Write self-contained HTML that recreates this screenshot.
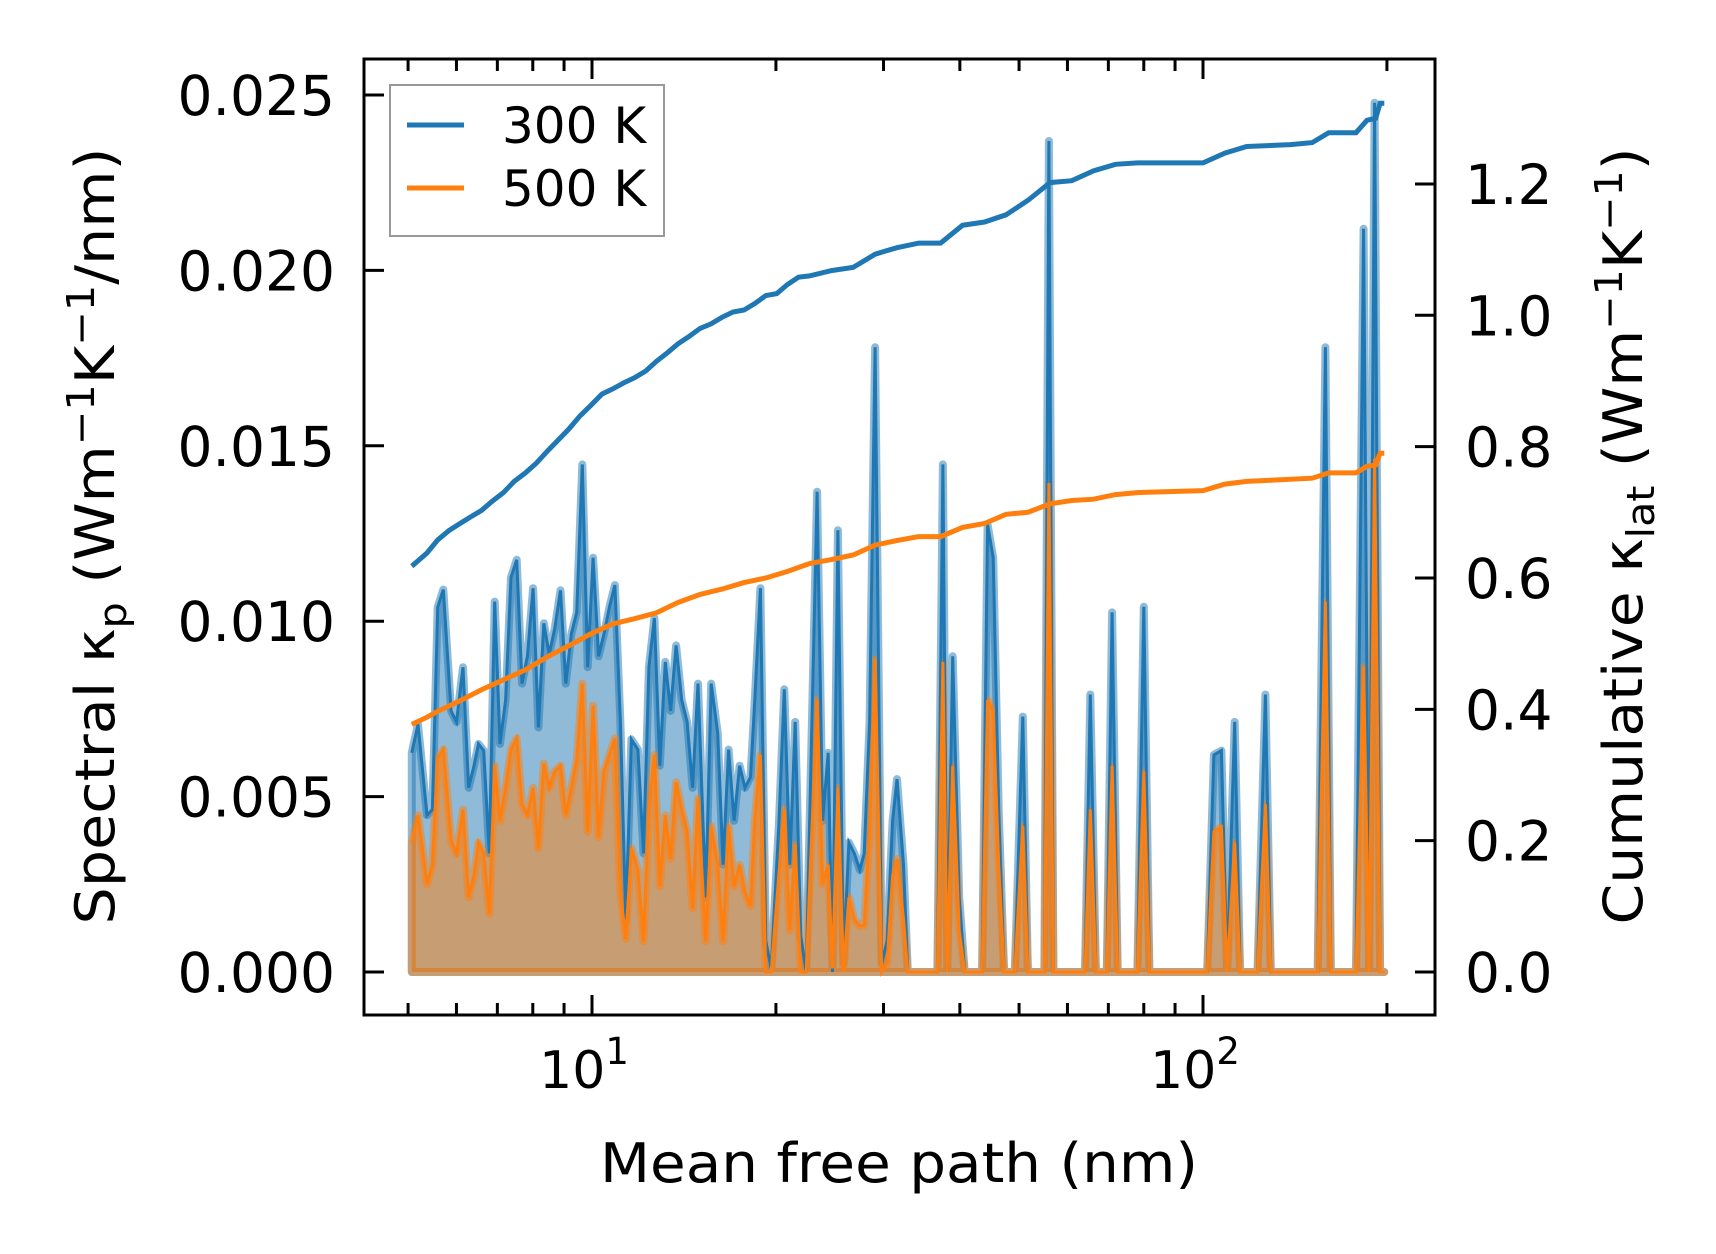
<!DOCTYPE html>
<html><head><meta charset="utf-8"><style>
html,body{margin:0;padding:0;background:#fff}
svg{display:block;font-family:"DejaVu Sans","Liberation Sans",sans-serif}
</style></head><body>
<svg id="chart" width="1716" height="1254" viewBox="0 0 1716 1254" xmlns="http://www.w3.org/2000/svg">
<rect width="1716" height="1254" fill="#fff"/>
<g id="plot"></g>
<g id="axes"></g>
<text x="899" y="1182" font-size="54" text-anchor="middle" textLength="598" lengthAdjust="spacingAndGlyphs">Mean free path (nm)</text>
<text transform="translate(114,536) rotate(-90)" font-size="54" text-anchor="middle" textLength="777" lengthAdjust="spacingAndGlyphs">Spectral κ<tspan font-size="38" dy="12">p</tspan><tspan dy="-12"> (Wm</tspan><tspan font-size="38" dy="-20">−1</tspan><tspan dy="20">K</tspan><tspan font-size="38" dy="-20">−1</tspan><tspan dy="20">/nm)</tspan></text>
<text transform="translate(1642,536) rotate(-90)" font-size="54" text-anchor="middle" textLength="777" lengthAdjust="spacingAndGlyphs">Cumulative κ<tspan font-size="38" dy="12">lat</tspan><tspan dy="-12"> (Wm</tspan><tspan font-size="38" dy="-20">−1</tspan><tspan dy="20">K</tspan><tspan font-size="38" dy="-20">−1</tspan><tspan dy="20">)</tspan></text>
<g>
<rect x="390" y="85" width="274" height="151" fill="#fff" stroke="#999" stroke-width="2"/>
<line x1="407" y1="125" x2="464" y2="125" stroke="#1f77b4" stroke-width="5"/>
<text x="502" y="143" font-size="50">300 K</text>
<line x1="407" y1="188" x2="464" y2="188" stroke="#ff7f0e" stroke-width="5"/>
<text x="502" y="206" font-size="50">500 K</text>
</g>
</svg>
<script>
const mfp = [5.07,5.19,5.37,5.48,5.59,5.71,5.88,6.00,6.15,6.28,6.41,6.52,6.65,6.79,6.93,7.07,7.22,7.37,7.53,7.68,7.84,8.01,8.17,8.34,8.51,8.69,8.88,9.06,9.25,9.44,9.64,9.84,10.04,10.25,10.46,10.68,10.9,11.13,11.36,11.6,11.89,12.14,12.39,12.65,12.91,13.18,13.45,13.73,14.02,14.31,14.61,14.91,15.35,15.67,16.06,16.39,16.73,17.08,17.44,17.8,18.17,18.47,18.86,19.25,19.65,20.22,20.64,21.07,21.51,21.96,22.42,22.98,23.36,23.85,24.35,24.75,25.26,25.79,26.33,26.87,27.43,27.89,28.47,29.06,29.79,30.41,31.04,31.56,32.35,32.88,36.75,37.52,38.14,38.93,39.9,40.74,43.5,44.4,45.35,46.3,47.25,49.2,50.7,51.7,55.0,55.95,56.9,64.1,65.4,66.8,69.6,71.0,72.5,78.1,80.0,81.7,101.6,104.2,107.2,109.5,112.7,115,122.8,126.5,129.1,154.1,158.6,161.9,178,183.2,187,190.9,194.9,198];
const spec300 = [6.25,7.06,4.47,4.63,10.4,10.9,7.44,7.13,8.69,5.25,5.88,6.5,6.31,3.38,10.56,6.5,7.75,11.25,11.75,8.22,9.0,10.94,6.97,9.94,9.06,9.78,10.88,8.22,9.63,10.25,14.47,8.69,11.81,9.0,9.63,10.41,11.03,7.13,1.5,6.63,6.34,3.38,8.69,10.09,5.88,8.84,7.44,9.31,7.75,7.13,5.25,8.22,2.13,8.22,6.81,3.06,6.34,4.31,5.88,5.25,5.56,7.75,10.94,0.88,0.1,4.16,8.06,3.06,7.13,1.03,0,8.22,13.69,4.31,6.25,0,12.59,0.25,3.69,3.38,2.91,3.38,7.13,17.81,0.25,0.88,4.31,5.5,3.06,0,0,14.47,0,9.0,2.13,0,0,12.75,11.81,4.63,0,0,7.28,0,0,23.69,0,0,7.91,0,0,10.25,0,0,10.41,0,0,6.19,6.31,0,7.13,0,0,7.91,0,0,17.81,0,0,21.19,0,24.78,0,0];
const spec500 = [3.69,4.47,2.5,3.06,6.09,6.34,3.75,3.38,4.63,2.13,2.75,3.69,3.38,1.66,5.88,4.31,5.25,6.34,6.66,4.78,4.47,5.25,3.53,5.94,5.25,5.72,5.88,4.47,5.25,6.03,8.22,4.0,7.59,3.84,5.72,6.19,6.66,2.28,0.94,3.53,2.91,0.88,4.63,6.19,2.44,4.47,3.22,5.41,4.63,4.0,1.81,4.94,0.88,4.16,3.06,0.88,4.16,2.44,3.06,2.28,1.88,4.31,6.19,0,0,2.75,4.63,1.19,3.63,0,0,4.69,7.75,2.5,3.06,0.1,5.25,0,2.13,1.5,1.31,1.34,4.0,8.91,0,0.25,2.75,3.22,1.5,0,0,8.84,0,5.88,1.19,0,0,7.75,7.44,3.06,0,0,4.16,0,0,13.94,0,0,4.63,0,0,5.88,0,0,5.72,0,0,4.0,4.13,0,3.69,0,0,4.78,0,0,10.56,0,0,8.69,0,14.63,0,0];
const cumMfp300 = [5.07,5.37,5.59,5.83,6.08,6.33,6.60,6.87,7.16,7.46,7.78,8.11,8.45,8.80,9.17,9.56,9.96,10.38,10.81,11.27,11.74,12.24,12.75,13.29,13.85,14.43,15.03,15.67,16.32,17.01,17.73,18.47,19.25,20.06,20.9,21.78,22.7,24.65,26.76,29.06,30.28,31.56,34.27,37.2,40.4,43.9,47.6,51.7,56.2,61.0,66.2,71.9,78.1,100,108.6,117.9,139,150.9,160.6,178,185.5,191.7,194.9,198];
const cum300 = [0.618,0.638,0.658,0.672,0.683,0.693,0.703,0.717,0.730,0.747,0.76,0.775,0.793,0.81,0.827,0.847,0.863,0.88,0.888,0.897,0.905,0.915,0.93,0.943,0.957,0.968,0.98,0.987,0.997,1.005,1.008,1.018,1.03,1.033,1.047,1.058,1.06,1.068,1.073,1.093,1.098,1.103,1.11,1.11,1.137,1.142,1.153,1.175,1.202,1.205,1.22,1.23,1.232,1.232,1.247,1.257,1.26,1.263,1.278,1.278,1.297,1.3,1.323,1.323];
const cumMfp500 = [5.07,5.37,5.59,6.08,6.60,7.16,7.78,8.45,9.17,9.96,10.81,11.74,12.75,13.85,15.03,16.32,17.73,19.25,20.9,22.7,24.65,26.76,29.06,31.56,34.27,37.2,40.4,43.9,47.6,51.7,56.2,61.0,66.2,71.9,78.1,100,108.6,117.9,150.9,160.6,178,185.5,191.7,194.9,198];
const cum500 = [0.377,0.388,0.397,0.413,0.43,0.445,0.46,0.48,0.497,0.515,0.53,0.538,0.547,0.563,0.575,0.583,0.593,0.6,0.61,0.622,0.628,0.635,0.65,0.657,0.663,0.663,0.677,0.683,0.697,0.7,0.713,0.718,0.72,0.727,0.73,0.733,0.743,0.747,0.752,0.76,0.76,0.77,0.772,0.79,0.79];
const leftTicks = [0,0.005,0.010,0.015,0.020,0.025];
const leftTickLabels = ["0.000","0.005","0.010","0.015","0.020","0.025"];
const rightTicks = [0,0.2,0.4,0.6,0.8,1.0,1.2];
const rightTickLabels = ["0.0","0.2","0.4","0.6","0.8","1.0","1.2"];

const L=364,R=1435,T=59,B=1015;
const xs = v => 592 + 611*Math.log10(v/10);
const yl = v => 972 - v*175.4/0.005;
const yr = v => 972 - v*656.7;
const NS='http://www.w3.org/2000/svg';
const plot=document.getElementById('plot'), axes=document.getElementById('axes');
function mk(tag,attrs,parent){const e=document.createElementNS(NS,tag);for(const k in attrs)e.setAttribute(k,attrs[k]);parent.appendChild(e);return e;}

function specPts(arr){return mfp.map((m,i)=>xs(m).toFixed(1)+','+yl(arr[i]/1000).toFixed(1));}
function areaPath(arr){const p=specPts(arr);return 'M'+xs(mfp[0]).toFixed(1)+','+yl(0)+' L'+p.join(' L')+' L'+xs(mfp[mfp.length-1]).toFixed(1)+','+yl(0)+' Z';}

const a300=mk('path',{d:areaPath(spec300),fill:'rgba(31,119,180,0.5)',stroke:'rgba(31,119,180,0.5)','stroke-width':8,'stroke-linejoin':'round'},plot);


const a500=mk('path',{d:areaPath(spec500),fill:'rgba(255,127,14,0.5)',stroke:'rgba(255,127,14,0.5)','stroke-width':8,'stroke-linejoin':'round'},plot);


const l300=mk('polyline',{points:specPts(spec300).join(' '),fill:'none',stroke:'#1f77b4','stroke-width':3},plot);


const l500=mk('polyline',{points:specPts(spec500).join(' '),fill:'none',stroke:'#ff7f0e','stroke-width':3},plot);


const c300=mk('polyline',{points:cumMfp300.map((m,i)=>xs(m).toFixed(1)+','+yr(cum300[i]).toFixed(1)).join(' '),fill:'none',stroke:'#1f77b4','stroke-width':5},plot);


const c500=mk('polyline',{points:cumMfp500.map((m,i)=>xs(m).toFixed(1)+','+yr(cum500[i]).toFixed(1)).join(' '),fill:'none',stroke:'#ff7f0e','stroke-width':5},plot);



const frame=mk('rect',{x:L,y:T,width:R-L,height:B-T,fill:'none',stroke:'#000','stroke-width':3},axes);



for(let d=1;d<=3;d++){for(let k=1;k<10;k++){
  const m=k*Math.pow(10,d-1); const x=xs(m); if(x<L||x>R)continue;
  const len=k===1?20:12;
  const t1=mk('line',{x1:x,y1:B,x2:x,y2:B-len,stroke:'#000','stroke-width':3},axes);
  
  
  const t2=mk('line',{x1:x,y1:T,x2:x,y2:T+len,stroke:'#000','stroke-width':3},axes);
  
  
  if(k===1&&(d===2||d===3)){
    const tx=mk('text',{x:x-8,y:1088,'font-size':52,'text-anchor':'middle'},axes);
    
    
    tx.textContent='10';
    const sup=mk('tspan',{'font-size':37,dy:-24},tx); sup.textContent=String(d-1);
  }
}}
leftTicks.forEach((v,i)=>{const y=yl(v);
  const t=mk('line',{x1:L,y1:y,x2:L+20,y2:y,stroke:'#000','stroke-width':3},axes);
  
  
  const tx=mk('text',{x:335,y:y+20,'font-size':55,'text-anchor':'end'},axes);
  
  
  tx.textContent=leftTickLabels[i];
});
rightTicks.forEach((v,i)=>{const y=yr(v);
  const t=mk('line',{x1:R,y1:y,x2:R-20,y2:y,stroke:'#000','stroke-width':3},axes);
  
  
  const tx=mk('text',{x:1465,y:y+20,'font-size':55,'text-anchor':'start'},axes);
  
  
  tx.textContent=rightTickLabels[i];
});
</script>
</body></html>
